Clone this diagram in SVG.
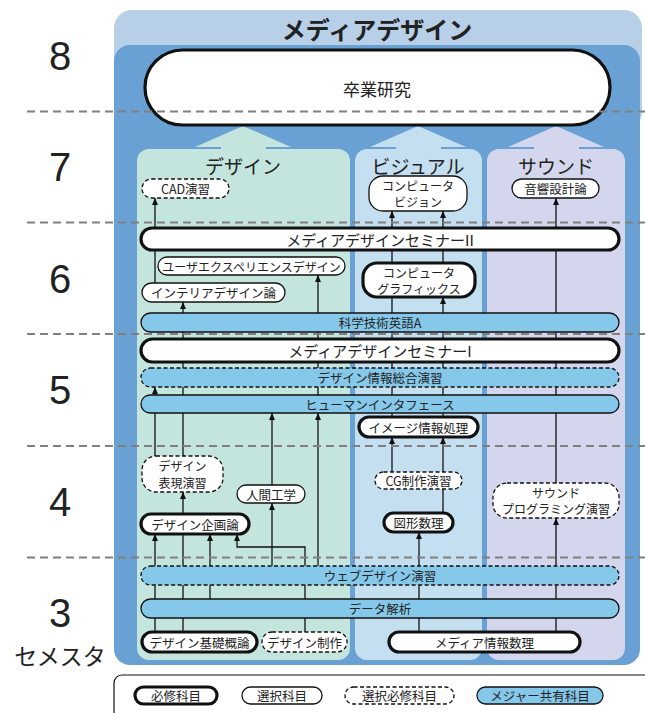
<svg xmlns="http://www.w3.org/2000/svg" width="645" height="713" viewBox="0 0 645 713">
<defs>
<marker id="ah" markerUnits="userSpaceOnUse" markerWidth="7" markerHeight="6" viewBox="0 0 7 6" refX="7" refY="3" orient="auto"><path d="M0,0 L7,3 L0,6 z" fill="#111"/></marker>
<style>
.n{fill:#fff;stroke:#111;stroke-width:1.3}
.req{stroke-width:3.2}
.dsh{stroke-dasharray:4 2.5}
.band{fill:#86c8ea}
.t{font-family:"Noto Sans CJK JP","Noto Sans",sans-serif;font-size:12.5px;fill:#222;text-anchor:middle;dominant-baseline:central}
.t2{font-size:12px}
.h{font-size:19px}
.num{font-family:"Liberation Sans",Arial,sans-serif;font-size:40px;fill:#222;text-anchor:middle}
.c{fill:none;stroke:#111;stroke-width:1.3}
.ca{marker-end:url(#ah)}
.sem{stroke:#808080;stroke-width:2;stroke-dasharray:8 5}
</style>
</defs>
<rect width="645" height="713" fill="#fff"/>
<g id="background">
<rect x="114" y="10" width="528" height="120" rx="18" fill="#b7cfe7"/>
<rect x="114" y="45" width="526" height="620" rx="16" fill="#6aa1d4"/>
<rect x="137" y="149" width="213" height="511" rx="12" fill="#c4e4de"/>
<rect x="355" y="149" width="127" height="511" rx="12" fill="#c3dff0"/>
<rect x="487" y="149" width="138" height="511" rx="12" fill="#d3d6ec"/>
<polygon points="195,147 243,126 291,147" fill="#c4e4de"/>
<rect x="221" y="146" width="45" height="5" fill="#c4e4de"/>
<polygon points="370,147 418,126 466,147" fill="#c3dff0"/>
<rect x="396" y="146" width="45" height="5" fill="#c3dff0"/>
<polygon points="508,147 556,126 604,147" fill="#d3d6ec"/>
<rect x="534" y="146" width="45" height="5" fill="#d3d6ec"/>
<text x="377" y="28" class="t" style="font-size:24px;font-weight:bold">メディアデザイン</text>
<text x="243" y="165" class="t h">デザイン</text>
<text x="418" y="165" class="t h">ビジュアル</text>
<text x="556" y="165" class="t h">サウンド</text>
</g>
<g id="semester-labels">
<text x="60" y="70" class="num">8</text>
<text x="60" y="181" class="num">7</text>
<text x="60" y="293" class="num">6</text>
<text x="60" y="404" class="num">5</text>
<text x="60" y="516" class="num">4</text>
<text x="60" y="627" class="num">3</text>
<text x="60" y="655" class="t" style="font-size:23px">セメスタ</text>
</g>
<g id="connectors">
<path class="c ca" d="M155,290 V198"/>
<path class="c ca" d="M183,460 V302"/>
<path class="c ca" d="M318,400 V275"/>
<path class="c ca" d="M155,460 V387"/>
<path class="c ca" d="M272,488 V413"/>
<path class="c ca" d="M318,570 V413"/>
<path class="c ca" d="M272,570 V503"/>
<path class="c ca" d="M183,636 V492"/>
<path class="c ca" d="M155,636 V534"/>
<path class="c ca" d="M210,603 V534"/>
<path class="c ca" d="M305,636 V547 H237 V534"/>
<path class="c ca" d="M443,268 V211"/>
<path class="c ca" d="M392,420 V211"/>
<path class="c ca" d="M443,420 V297"/>
<path class="c ca" d="M392,476 V437"/>
<path class="c ca" d="M443,476 V437"/>
<path class="c" d="M443,515 V489"/>
<path class="c ca" d="M419,636 V532"/>
<path class="c ca" d="M556,636 V518"/>
<path class="c ca" d="M556,486 V198"/>
</g>
<g id="sotsugyo-kenkyu"><rect x="145" y="50" width="465" height="75" rx="37.5" class="n req"/><text x="377" y="88" class="t" style="font-size:17px">卒業研究</text></g>
<g id="cad"><rect x="142" y="179" width="87" height="19" rx="9.5" class="n dsh"/><text x="185.5" y="188.5" class="t">CAD演習</text></g>
<g id="computer-vision"><rect x="369" y="176" width="98" height="35" rx="14" class="n"/><text x="418" y="185.5" class="t t2">コンピュータ</text><text x="418" y="201.5" class="t t2">ビジョン</text></g>
<g id="onkyo"><rect x="512" y="179" width="87" height="19" rx="9.5" class="n"/><text x="555.5" y="188.5" class="t">音響設計論</text></g>
<g id="seminar2"><rect x="141" y="228" width="478" height="22" rx="11" class="n req"/><text x="380" y="239" class="t" style="font-size:15px">メディアデザインセミナーII</text></g>
<g id="ux"><rect x="158" y="257" width="187" height="18" rx="9" class="n"/><text x="251.5" y="266" class="t" style="font-size:12px">ユーザエクスペリエンスデザイン</text></g>
<g id="interior"><rect x="142" y="283" width="143" height="19" rx="9.5" class="n"/><text x="213.5" y="292.5" class="t">インテリアデザイン論</text></g>
<g id="cg"><rect x="363" y="263" width="112" height="34" rx="14" class="n req"/><text x="419" y="272" class="t t2">コンピュータ</text><text x="419" y="288" class="t t2">グラフィックス</text></g>
<g id="kagaku-eigo"><rect x="141" y="313" width="478" height="19" rx="9.5" class="n band"/><text x="380" y="322.5" class="t">科学技術英語A</text></g>
<g id="seminar1"><rect x="141" y="339" width="478" height="23" rx="11.5" class="n req"/><text x="380" y="350.5" class="t" style="font-size:15px">メディアデザインセミナーI</text></g>
<g id="design-joho-sogo"><rect x="141" y="368" width="478" height="19" rx="9.5" class="n band dsh"/><text x="380" y="377.5" class="t">デザイン情報総合演習</text></g>
<g id="human-interface"><rect x="141" y="395" width="478" height="18" rx="9" class="n band"/><text x="380" y="404" class="t">ヒューマンインタフェース</text></g>
<g id="image-joho"><rect x="359" y="417" width="119" height="20" rx="10" class="n req"/><text x="418.5" y="427" class="t">イメージ情報処理</text></g>
<g id="design-hyogen"><rect x="142" y="456" width="81" height="36" rx="14" class="n dsh"/><text x="182.5" y="465.5" class="t t2">デザイン</text><text x="182.5" y="482" class="t t2">表現演習</text></g>
<g id="cg-seisaku"><rect x="375" y="472" width="87" height="17" rx="8.5" class="n dsh"/><text x="418.5" y="480.5" class="t">CG制作演習</text></g>
<g id="sound-prog"><rect x="493" y="483" width="126" height="35" rx="14" class="n dsh"/><text x="556" y="492.5" class="t t2">サウンド</text><text x="556" y="508.5" class="t t2">プログラミング演習</text></g>
<g id="ningen-kogaku"><rect x="237" y="485" width="68" height="18" rx="9" class="n"/><text x="271" y="494" class="t">人間工学</text></g>
<g id="design-kikaku"><rect x="141" y="514" width="108" height="20" rx="10" class="n req"/><text x="195" y="524" class="t">デザイン企画論</text></g>
<g id="zukei-suri"><rect x="384" y="513" width="69" height="19" rx="9.5" class="n req"/><text x="418.5" y="522.5" class="t">図形数理</text></g>
<g id="web-design"><rect x="141" y="566" width="478" height="19" rx="9.5" class="n band dsh"/><text x="380" y="575.5" class="t">ウェブデザイン演習</text></g>
<g id="data-kaiseki"><rect x="141" y="599" width="478" height="19" rx="9.5" class="n band"/><text x="380" y="608.5" class="t">データ解析</text></g>
<g id="design-kiso"><rect x="142" y="632" width="115" height="20" rx="10" class="n req"/><text x="199.5" y="642" class="t">デザイン基礎概論</text></g>
<g id="design-seisaku"><rect x="262" y="632" width="85" height="20" rx="10" class="n dsh"/><text x="304.5" y="642" class="t">デザイン制作</text></g>
<g id="media-joho-suri"><rect x="389" y="632" width="191" height="20" rx="10" class="n req"/><text x="484.5" y="642" class="t">メディア情報数理</text></g>
<g id="semester-lines">
<line x1="27" y1="111.5" x2="645" y2="111.5" class="sem"/>
<line x1="27" y1="222.5" x2="645" y2="222.5" class="sem"/>
<line x1="27" y1="334" x2="645" y2="334" class="sem"/>
<line x1="27" y1="446" x2="645" y2="446" class="sem"/>
<line x1="27" y1="557.5" x2="645" y2="557.5" class="sem"/>
</g>
<g id="legend">
<rect x="114" y="675" width="560" height="60" rx="8" fill="none" stroke="#111" stroke-width="1.2"/>
<rect x="135" y="687" width="82" height="17" rx="8.5" class="n req"/><text x="176" y="695.5" class="t">必修科目</text>
<rect x="242" y="687" width="80" height="17" rx="8.5" class="n"/><text x="282" y="695.5" class="t">選択科目</text>
<rect x="345" y="687" width="109" height="17" rx="8.5" class="n dsh"/><text x="399.5" y="695.5" class="t">選択必修科目</text>
<rect x="477" y="687" width="126" height="17" rx="8.5" class="n band"/><text x="540" y="695.5" class="t">メジャー共有科目</text>
</g>
</svg>
